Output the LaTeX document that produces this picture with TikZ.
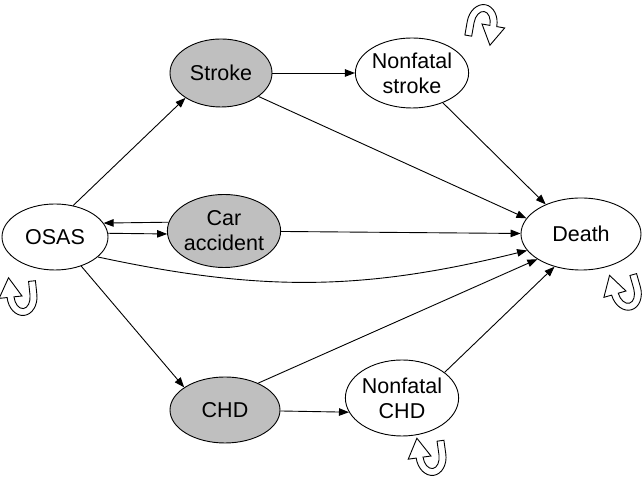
\documentclass[tikz,border=0pt]{standalone}
\usepackage{fontspec}
\setmainfont{Liberation Sans}
\usetikzlibrary{positioning,shapes.geometric,arrows.meta}

\tikzset{
  state/.style={ellipse, draw, line width=0.9pt, align=center, inner sep=0pt,
    font=\fontsize{21.5}{25}\selectfont},
  event/.style={state, fill=gray!50},
  arr/.style={-{Triangle[length=10pt,width=7.5pt]}, line width=0.9pt},
  selfloop/.pic={
    \draw[line width=0.9pt, fill=white] (13,12) -- (13,0)
      arc[start angle=0, end angle=-180, x radius=13, y radius=17]
      -- (-20,0) -- (-10,17) -- (0,0) -- (-7,0)
      arc[start angle=180, end angle=360, x radius=7, y radius=11]
      -- (7,12) -- cycle;
  }
}

\begin{document}
\begin{tikzpicture}[x=1pt,y=1pt]
\useasboundingbox (0,0) rectangle (643,478);

% States
\node[state, minimum width=106pt, minimum height=66pt] (osas) at (55,241) {OSAS};
\node[event, minimum width=102pt, minimum height=68pt] (stroke) at (221,405) {Stroke};
\node[state, minimum width=86pt, minimum height=70pt] (nfstroke) at (412,405) {Nonfatal\\stroke};
\node[event, minimum width=103pt, minimum height=73pt] (car) at (224,247) {Car\\accident};
\node[state, minimum width=120pt, minimum height=72pt] (death) at (581,244) {Death};
\node[event, minimum width=110pt, minimum height=66pt] (chd) at (225,68) {CHD};
\node[state, minimum width=96pt, minimum height=76pt] (nfchd) at (402,80) {Nonfatal\\CHD};

% Transitions
\draw[arr] (osas.60) -- (stroke.215);
\draw[arr] (stroke) -- (nfstroke);
\draw[arr] (stroke.-32) -- (death.164);
\draw[arr] (nfstroke.-44) -- (death.140);
\draw[arr] (car.171) -- (osas.16);
\draw[arr] (osas.4) -- (car.183);
\draw[arr] (car) -- (death);
\draw[arr] (osas.-25) to[bend right=13] (death.197);
\draw[arr] (osas.-48) -- (chd.151);
\draw[arr] (chd.39) -- (death.210);
\draw[arr] (chd) -- (nfchd.195);
\draw[arr] (nfchd.31) -- (death.231);

% Staying in the same state
\pic[rotate=170, scale=1.15] at (482,454) {selfloop};
\pic[rotate=6, scale=1.15] at (22,182) {selfloop};
\pic[rotate=16, scale=1.15] at (626,187) {selfloop};
\pic[rotate=8, scale=1.15] at (431,22) {selfloop};

\end{tikzpicture}
\end{document}
